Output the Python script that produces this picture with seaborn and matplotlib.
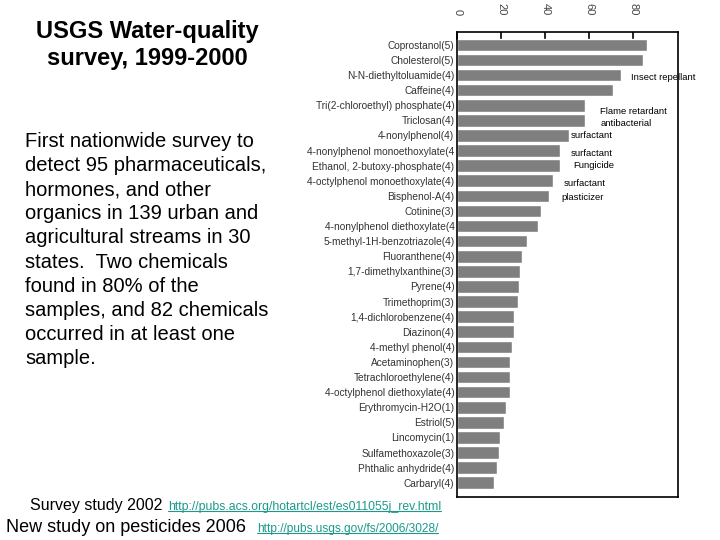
import pandas as pd
import matplotlib.pyplot as plt
from matplotlib.lines import Line2D
import seaborn as sns

# Chemicals (number of groups) and percent of streams where found
chemicals = [
    "Coprostanol(5)", "Cholesterol(5)", "N-N-diethyltoluamide(4)", "Caffeine(4)",
    "Tri(2-chloroethyl) phosphate(4)", "Triclosan(4)", "4-nonylphenol(4)",
    "4-nonylphenol monoethoxylate(4", "Ethanol, 2-butoxy-phosphate(4)",
    "4-octylphenol monoethoxylate(4)", "Bisphenol-A(4)", "Cotinine(3)",
    "4-nonylphenol diethoxylate(4", "5-methyl-1H-benzotriazole(4)",
    "Fluoranthene(4)", "1,7-dimethylxanthine(3)", "Pyrene(4)", "Trimethoprim(3)",
    "1,4-dichlorobenzene(4)", "Diazinon(4)", "4-methyl phenol(4)",
    "Acetaminophen(3)", "Tetrachloroethylene(4)", "4-octylphenol diethoxylate(4)",
    "Erythromycin-H2O(1)", "Estriol(5)", "Lincomycin(1)", "Sulfamethoxazole(3)",
    "Phthalic anhydride(4)", "Carbaryl(4)",
]
percent_found = [
    86.1, 84.3, 74.3, 70.6, 57.9, 57.9, 50.7, 46.5, 46.5, 43.7, 41.6, 38.1,
    36.8, 31.6, 29.6, 28.7, 28.2, 27.5, 26.0, 26.0, 24.7, 23.8, 23.8, 23.8,
    22.0, 21.4, 19.4, 19.1, 17.9, 16.7,
]
x_ticks = [0, 20, 40, 60, 80]

# Use notes beside the bars (text, row it sits near, x in data units)
use_notes = [
    ("Insect repellant", 2.15, 79),
    ("Flame retardant", 4.4, 65),
    ("antibacterial", 5.2, 65),
    ("surfactant", 6.0, 51.5),
    ("surfactant", 7.2, 51.5),
    ("Fungicide", 8.0, 52.5),
    ("surfactant", 9.2, 48.5),
    ("plasticizer", 10.1, 47.5),
]

df = pd.DataFrame({"chemical": chemicals, "percent": percent_found})

sns.set_style("white")
plt.rcParams['font.family'] = ['Liberation Sans', 'DejaVu Sans']
plt.rcParams['text.color'] = 'black'

fig = plt.figure(figsize=(7.2, 5.4), dpi=100)
ax = fig.add_axes([0.635, 0.080, 0.306, 0.861])

sns.barplot(data=df, x="percent", y="chemical", color="#7f7f7f",
            saturation=1, width=0.83, ax=ax)

ax.set_xlim(0, 100)
ax.set_ylim(29.93, -0.86)
ax.set_xticks(x_ticks)
ax.xaxis.tick_top()
ax.tick_params(axis="x", direction="in", length=6, width=1.2, color="black",
               labelsize=8, labelcolor="#444444", labelrotation=-90, pad=12)
ax.tick_params(axis="y", length=0, labelsize=7.3, labelcolor="#333333", pad=2)
ax.set_xlabel("")
ax.set_ylabel("")
for side in ax.spines.values():
    side.set_visible(True)
    side.set_color("black")
    side.set_linewidth(1.2)

for note, row, xpos in use_notes:
    ax.text(xpos, row, note, fontsize=6.8, color="black", va="center",
            clip_on=False)

# Left-hand slide text
fig.text(0.205, 0.917, "USGS Water-quality\nsurvey, 1999-2000", ha="center",
         va="center", fontsize=17, fontweight="bold", linespacing=1.24)
fig.text(0.035, 0.537,
         "First nationwide survey to\ndetect 95 pharmaceuticals,\n"
         "hormones, and other\norganics in 139 urban and\n"
         "agricultural streams in 30\nstates.  Two chemicals\n"
         "found in 80% of the\nsamples, and 82 chemicals\n"
         "occurred in at least one\nsample.",
         ha="left", va="center", fontsize=14.5, linespacing=1.34)

# Bottom references
fig.text(0.041, 0.064, "Survey study 2002", fontsize=11.5, va="center")
fig.text(0.009, 0.024, "New study on pesticides 2006", fontsize=13, va="center")
links = [
    fig.text(0.233, 0.061, "http://pubs.acs.org/hotartcl/est/es011055j_rev.html",
             fontsize=8.8, color="#1a9a8a", va="center"),
    fig.text(0.357, 0.021, "http://pubs.usgs.gov/fs/2006/3028/",
             fontsize=8.6, color="#1a9a8a", va="center"),
]

# underline the links
fig.canvas.draw()
renderer = fig.canvas.get_renderer()
for link in links:
    bb = link.get_window_extent(renderer).transformed(fig.transFigure.inverted())
    fig.add_artist(Line2D([bb.x0, bb.x1], [bb.y0 + 0.003, bb.y0 + 0.003],
                          color="#1a9a8a", linewidth=0.8))

fig.savefig("out.png", dpi=100)
